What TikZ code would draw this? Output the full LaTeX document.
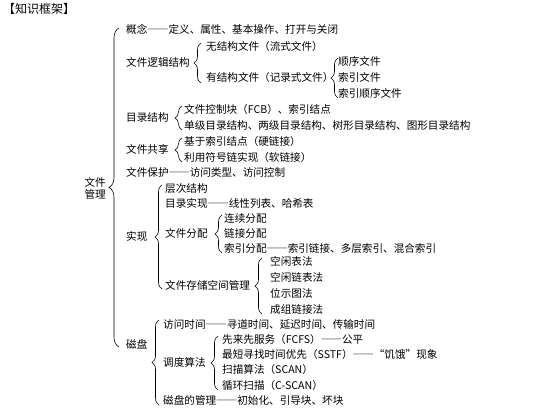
\documentclass[tikz,border=0pt]{standalone}
\usepackage{fontspec}
\setmainfont{Noto Sans CJK SC}
\newfontfamily\fwfont[CharacterWidth=Full]{Noto Sans CJK SC}
\newcommand\lat[1]{{\rmfamily #1}}
\usetikzlibrary{decorations.pathreplacing}
\begin{document}
\begin{tikzpicture}[x=1pt,y=-1pt,
  lbl/.style={anchor=west, inner sep=0pt, font=\fwfont\fontsize{10.6}{12}\selectfont, text height=8.5pt, text depth=2.1pt},
  brc/.style={decorate, decoration={brace, amplitude=#1}, line width=0.6pt},
  brc/.default=7pt]
\useasboundingbox[fill=white] (0,0) rectangle (550,409);
% title
\node[lbl, font=\fwfont\fontsize{12}{14}\selectfont] (title) at (3,10) {【知识框架】};
% root
\node[anchor=east, inner sep=0pt, align=center, font=\fwfont\fontsize{10.6}{12}\selectfont] (root) at (106,188) {文件\\管理};
\coordinate (m-t) at (119,28); \coordinate (m-b) at (119,347);
\draw[brc=10pt] (m-b) -- (m-t);
% level 1
\node[lbl] (concept) at (126,30) {概念——定义、属性、基本操作、打开与关闭};
\node[lbl] (logic) at (126,63) {文件逻辑结构};
\node[lbl] (dir) at (126,118) {目录结构};
\node[lbl] (share) at (126,150) {文件共享};
\node[lbl] (protect) at (126,173) {文件保护——访问类型、访问控制};
\node[lbl] (impl) at (126,237) {实现};
\node[lbl] (disk) at (126,345) {磁盘};
% logic structure
\coordinate (lg-t) at (201,43); \coordinate (lg-b) at (201,83);
\draw[brc] (lg-b) -- (lg-t);
\node[lbl] (nostruct) at (206,47) {无结构文件（流式文件）};
\node[lbl] (struct) at (206,78) {有结构文件（记录式文件）};
\coordinate (st-t) at (338,58); \coordinate (st-b) at (338,98);
\draw[brc] (st-b) -- (st-t);
\node[lbl] (seq) at (338,62) {顺序文件};
\node[lbl] (idx) at (338,78) {索引文件};
\node[lbl] (idxseq) at (338,94) {索引顺序文件};
% directory
\coordinate (dr-t) at (182,106); \coordinate (dr-b) at (182,130);
\draw[brc] (dr-b) -- (dr-t);
\node[lbl] (fcb) at (184,110) {文件控制块（\lat{FCB}）、索引结点};
\node[lbl] (levels) at (184,126) {单级目录结构、两级目录结构、树形目录结构、图形目录结构};
% share
\coordinate (sh-t) at (182,138); \coordinate (sh-b) at (182,162);
\draw[brc] (sh-b) -- (sh-t);
\node[lbl] (hard) at (184,142) {基于索引结点（硬链接）};
\node[lbl] (soft) at (184,158) {利用符号链实现（软链接）};
% implementation
\coordinate (im-t) at (162,185); \coordinate (im-b) at (162,289);
\draw[brc] (im-b) -- (im-t);
\node[lbl] (hier) at (165,189) {层次结构};
\node[lbl] (dirimpl) at (165,204) {目录实现——线性列表、哈希表};
\node[lbl] (alloc) at (165,234) {文件分配};
\node[lbl] (space) at (165,286) {文件存储空间管理};
\coordinate (al-t) at (222,215); \coordinate (al-b) at (222,253);
\draw[brc] (al-b) -- (al-t);
\node[lbl] (contig) at (224,219) {连续分配};
\node[lbl] (linked) at (224,234) {链接分配};
\node[lbl] (indexed) at (224,249) {索引分配——索引链接、多层索引、混合索引};
\coordinate (sp-t) at (262,258); \coordinate (sp-b) at (262,314);
\draw[brc] (sp-b) -- (sp-t);
\node[lbl] (freetab) at (270,262) {空闲表法};
\node[lbl] (freelist) at (270,278) {空闲链表法};
\node[lbl] (bitmap) at (270,294) {位示图法};
\node[lbl] (group) at (270,310) {成组链接法};
% disk
\coordinate (dk-t) at (159,320); \coordinate (dk-b) at (159,405);
\draw[brc] (dk-b) -- (dk-t);
\node[lbl] (access) at (163,325) {访问时间——寻道时间、延迟时间、传输时间};
\node[lbl] (sched) at (163,363) {调度算法};
\node[lbl] (mgmt) at (163,401) {磁盘的管理——初始化、引导块、坏块};
\coordinate (sc-t) at (218,336); \coordinate (sc-b) at (218,390);
\draw[brc] (sc-b) -- (sc-t);
\node[lbl] (fcfs) at (222,340) {先来先服务（\lat{FCFS}）——公平};
\node[lbl] (sstf) at (222,355) {最短寻找时间优先（\lat{SSTF}）——“饥饿”现象};
\node[lbl] (scan) at (222,370) {扫描算法（\lat{SCAN}）};
\node[lbl] (cscan) at (222,386) {循环扫描（\lat{C-SCAN}）};
\end{tikzpicture}
\end{document}
